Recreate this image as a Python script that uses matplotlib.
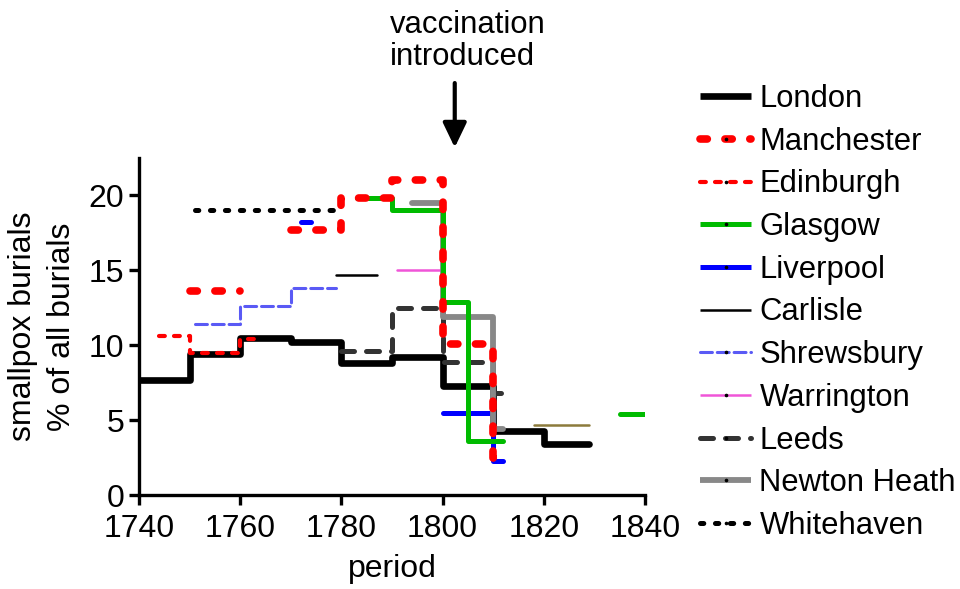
import numpy as np
import matplotlib
matplotlib.use("Agg")
import matplotlib.pyplot as plt
from matplotlib.lines import Line2D

plt.rcParams['font.family'] = ['Liberation Sans', 'DejaVu Sans']

nan = np.nan
# ---- data (period edges, smallpox % of burials per period) ----
london_edges = [1740, 1750, 1760, 1770, 1780, 1790, 1800, 1810, 1820, 1829]
london_vals = [7.7, 9.4, 10.5, 10.2, 8.8, 9.2, 7.3, 4.3, 3.4]
manchester_edges = [1750, 1760, 1770, 1780, 1790, 1800, 1810, 1811]
manchester_vals = [13.6, nan, 17.7, 19.8, 21.0, 10.1, 2.5]
edinburgh_edges = [1744, 1750, 1760, 1763]
edinburgh_vals = [10.6, 9.5, 10.4]
glasgow_edges = [1783, 1790, 1800, 1805, 1812, 1835, 1840]
glasgow_vals = [19.8, 19.0, 12.9, 3.6, nan, 5.4]
liverpool_edges = [1772, 1774, 1800, 1810, 1812]
liverpool_vals = [18.2, nan, 5.5, 2.3]
carlisle_edges = [1779, 1787]
carlisle_vals = [14.7]
shrewsbury_edges = [1751, 1760, 1770, 1779]
shrewsbury_vals = [11.4, 12.6, 13.8]
warrington_edges = [1791, 1800]
warrington_vals = [15.0]
leeds_edges = [1780, 1790, 1800, 1810, 1812]
leeds_vals = [9.6, 12.5, 8.9, 6.8]
newtonheath_edges = [1794, 1800, 1810, 1812]
newtonheath_vals = [19.5, 11.9, 4.4]
whitehaven_edges = [1751, 1779]
whitehaven_vals = [19.0]
other_edges = [1818, 1829]
other_vals = [4.7]

xticks = [1740, 1760, 1780, 1800, 1820, 1840]
yticks = [0, 5, 10, 15, 20]

series = [
    ("London", london_edges, london_vals,
     dict(color='black', lw=4.8, ls='-', zorder=2), False),
    ("Manchester", manchester_edges, manchester_vals,
     dict(color='#ff0000', lw=5.5, ls=(0, (0.96, 2.3)), zorder=6), True),
    ("Edinburgh", edinburgh_edges, edinburgh_vals,
     dict(color='#ff0000', lw=3.0, ls=(0, (1.4, 2.2)), zorder=2.5), True),
    ("Glasgow", glasgow_edges, glasgow_vals,
     dict(color='#00bb00', lw=3.6, ls='-', zorder=4), True),
    ("Liverpool", liverpool_edges, liverpool_vals,
     dict(color='#0000ff', lw=3.6, ls='-', zorder=3.2), True),
    ("Carlisle", carlisle_edges, carlisle_vals,
     dict(color='black', lw=1.8, ls='-', zorder=2), False),
    ("Shrewsbury", shrewsbury_edges, shrewsbury_vals,
     dict(color='#5a5af5', lw=2.2, ls=(0, (3.9, 1.6)), zorder=2), True),
    ("Warrington", warrington_edges, warrington_vals,
     dict(color='#f055d8', lw=1.8, ls='-', zorder=2), True),
    ("Leeds", leeds_edges, leeds_vals,
     dict(color='#333333', lw=3.6, ls=(0, (2.6, 2.4)), zorder=3), True),
    ("Newton Heath", newtonheath_edges, newtonheath_vals,
     dict(color='#888888', lw=4.2, ls='-', zorder=3.5), True),
    ("Whitehaven", whitehaven_edges, whitehaven_vals,
     dict(color='black', lw=3.6, ls=(0, (0.66, 2.33)), zorder=2), True),
]

fig = plt.figure(figsize=(9.6, 5.89), dpi=100)
ax = fig.add_axes([139 / 960, 1 - 495.3 / 589, 506 / 960, 337.3 / 589])

handles = []
for name, edges, vals, st, dot in series:
    y = list(vals) + [vals[-1]]
    ax.step(edges, y, where='post', color=st['color'], lw=st['lw'],
            linestyle=st['ls'], zorder=st['zorder'],
            solid_capstyle='round', dash_capstyle='round',
            solid_joinstyle='round', dash_joinstyle='round')
    h = Line2D([], [], color=st['color'], lw=st['lw'], linestyle=st['ls'],
               solid_capstyle='butt', dash_capstyle='round',
               marker='o' if dot else None, markersize=1.6,
               markerfacecolor='black', markeredgecolor='black')
    handles.append((h, name))

y = list(other_vals) + [other_vals[-1]]
ax.step(other_edges, y, where='post', color='#8c7b3c', lw=1.8, zorder=2,
        solid_capstyle='round')

ax.set_xlim(1740, 1840)
ax.set_ylim(0, 22.5)
ax.set_xticks(xticks)
ax.set_yticks(yticks)
for s in ['top', 'right']:
    ax.spines[s].set_visible(False)
for s in ['left', 'bottom']:
    ax.spines[s].set_linewidth(2.4)
ax.tick_params(direction='out', length=7.5, width=2.4, labelsize=23, pad=3)
ax.tick_params(axis='x', pad=6)
ax.set_xlabel("period", fontsize=23, labelpad=7)
ax.set_ylabel("smallpox burials\n% of all burials", fontsize=23,
              linespacing=1.38, va='center')
ax.yaxis.set_label_coords((42.5 - 139) / 506, 0.5)

ax.annotate("", xy=(1802.4, 23.2), xytext=(1802.4, 27.5),
            arrowprops=dict(arrowstyle='-|>,head_length=0.75,head_width=0.36',
                            mutation_scale=20, lw=3, color='black',
                            shrinkA=0, shrinkB=0),
            annotation_clip=False)
fig.text(390 / 960, 1 - 10 / 589, "vaccination\nintroduced", fontsize=22.3,
         ha='left', va='top', linespacing=1.1, multialignment='left')

fig.legend([h for h, _ in handles], [n for _, n in handles],
           loc='upper left', bbox_to_anchor=(700 / 960, 1 - 84 / 589),
           frameon=False, fontsize=22.3, borderpad=0, borderaxespad=0,
           handlelength=1.65, handletextpad=0.27, labelspacing=0.41)

fig.savefig("out.png", dpi=100)
